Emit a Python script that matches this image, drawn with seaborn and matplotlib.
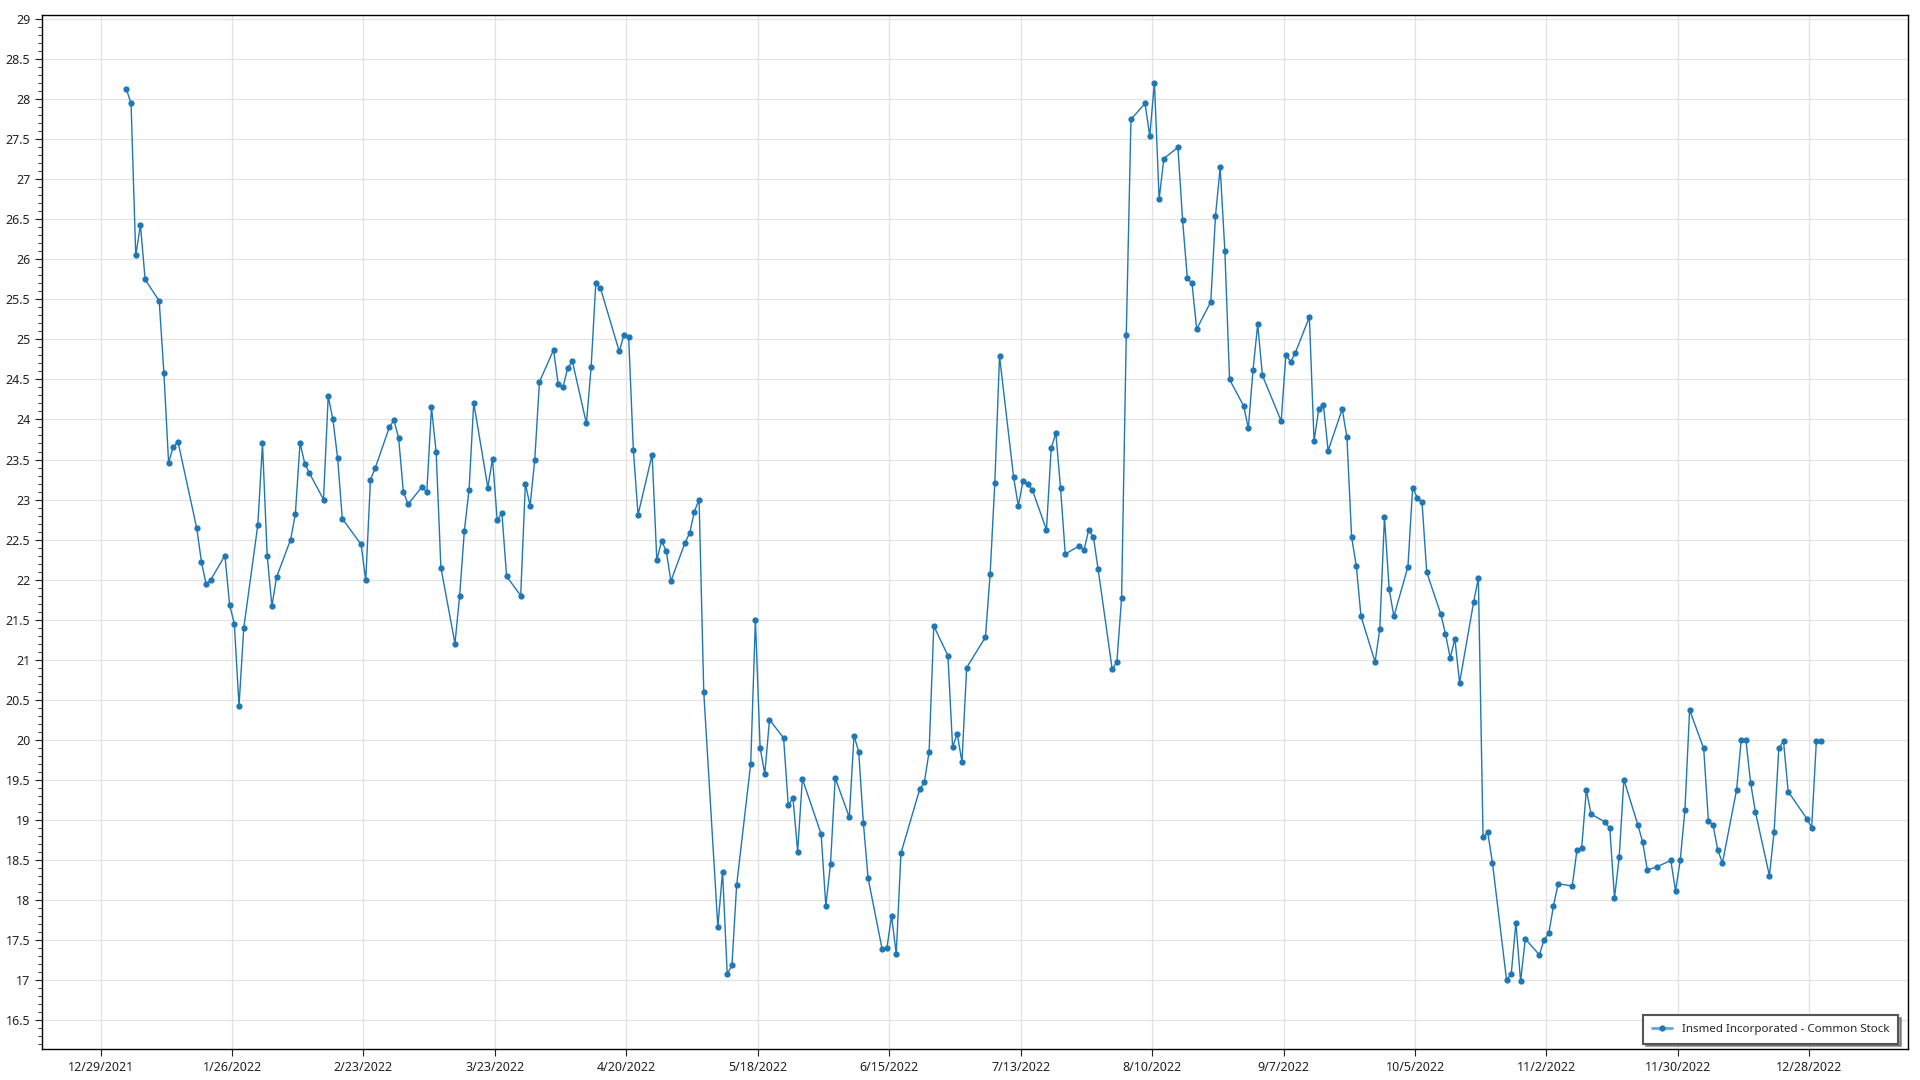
import numpy as np
import pandas as pd
import matplotlib
matplotlib.use('Agg')
import matplotlib.pyplot as plt
import matplotlib.dates as mdates
from matplotlib.ticker import MultipleLocator, FuncFormatter
import seaborn as sns

# ------------------------------------------------------------------
# closing prices, one list per month (2022)
# ------------------------------------------------------------------
jan = [28.13, 27.95, 26.05, 26.43, 25.75, 25.48, 24.58, 23.46, 23.66, 23.72,
       22.64, 22.22, 21.94, 22.00, 22.30, 21.68, 21.45, 20.42, 21.39, 22.68]
feb = [23.70, 22.30, 21.67, 22.03, 22.50, 22.82, 23.71, 23.45, 23.33, 23.00,
       24.29, 24.00, 23.52, 22.76, 22.44, 21.99, 23.25, 23.39, 23.90]
mar = [23.99, 23.77, 23.10, 22.94, 23.16, 23.09, 24.15, 23.59, 22.15, 21.20,
       21.80, 22.61, 23.12, 24.21, 23.15, 23.51, 22.74, 22.83, 22.04, 21.80,
       23.20, 22.92, 23.50]
apr = [24.47, 24.87, 24.44, 24.40, 24.64, 24.73, 23.95, 24.65, 25.70, 25.64,
       24.85, 25.06, 25.03, 23.62, 22.81, 23.56, 22.24, 22.48, 22.36, 21.98]
may = [22.46, 22.58, 22.85, 23.00, 20.59, 17.66, 18.35, 17.07, 17.18, 18.18,
       19.70, 21.50, 19.90, 19.57, 20.25, 20.02, 19.18, 19.27, 18.60, 19.51,
       18.82]
jun = [17.92, 18.45, 19.52, 19.03, 20.05, 19.85, 18.96, 18.27, 17.38, 17.39,
       17.80, 17.32, 18.58, 19.38, 19.47, 19.85, 21.42, 21.05, 19.91, 20.07,
       19.72]
jul = [20.90, 21.28, 22.07, 23.21, 24.79, 23.28, 22.92, 23.23, 23.19, 23.12,
       22.62, 23.64, 23.83, 23.14, 22.32, 22.42, 22.37, 22.62, 22.53, 22.13]
aug = [20.88, 20.97, 21.77, 25.06, 27.75, 27.95, 27.54, 28.21, 26.75, 27.26,
       27.40, 26.49, 25.77, 25.70, 25.13, 25.47, 26.54, 27.15, 26.11, 24.50,
       24.17, 23.89, 24.62]
sep = [25.19, 24.55, 23.98, 24.81, 24.72, 24.83, 25.28, 23.73, 24.13, 24.18,
       23.61, 24.13, 23.78, 22.53, 22.17, 21.54, 20.97, 21.38, 22.78, 21.88,
       21.54]
oct_ = [22.16, 23.15, 23.02, 22.97, 22.09, 21.57, 21.32, 21.02, 21.26, 20.71,
        21.72, 22.02, 18.78, 18.84, 18.46, 17.00, 17.07, 17.71, 16.98, 17.51,
        17.31]
nov = [17.50, 17.58, 17.92, 18.20, 18.17, 18.62, 18.64, 19.37, 19.07, 18.97,
       18.89, 18.02, 18.53, 19.50, 18.93, 18.72, 18.37, 18.41, 18.49, 18.11,
       18.49]
dec = [19.12, 20.37, 19.89, 18.98, 18.93, 18.62, 18.46, 19.37, 20.00, 19.99,
       19.46, 19.10, 18.30, 18.85, 19.89, 19.98, 19.35, 19.01, 18.90, 19.98,
       19.98]

# market holidays 2022 (trading calendar)
holidays = ['2022-01-17', '2022-02-21', '2022-04-15', '2022-05-30', '2022-06-20',
            '2022-07-04', '2022-09-05', '2022-11-24', '2022-12-26']
series_name = 'Insmed Incorporated - Common Stock'

# timestamps sit a bit after midnight in the source chart
dates = pd.bdate_range('2022-01-03', '2022-12-30', freq='C', holidays=holidays) + pd.Timedelta(hours=12)
close = jan + feb + mar + apr + may + jun + jul + aug + sep + oct_ + nov + dec
df = pd.DataFrame({'date': dates, 'close': close})

# ------------------------------------------------------------------
# plot
# ------------------------------------------------------------------
sns.set_style('white')
plt.rcParams['font.family'] = ['Noto Sans', 'DejaVu Sans']

fig = plt.figure(figsize=(19.2, 10.8), dpi=100)
ax = fig.add_axes([0.022, 0.0284, 0.9717, 0.9574])

sns.lineplot(data=df, x='date', y='close', ax=ax, color='#1f77b4',
             linewidth=1.0, marker='o', markersize=4.5, markeredgewidth=0,
             label=series_name)

# axes ranges
ax.set_xlim(pd.Timestamp('2021-12-16 14:00'), pd.Timestamp('2023-01-18'))
ax.set_ylim(16.13, 29.05)

# x ticks every 4 weeks
xticks = pd.date_range('2021-12-29', periods=14, freq='28D')
ax.set_xticks(xticks)
ax.xaxis.set_major_formatter(FuncFormatter(
    lambda v, pos: '{d.month}/{d.day}/{d.year}'.format(d=mdates.num2date(v))))

ax.yaxis.set_major_locator(MultipleLocator(0.5))
ax.yaxis.set_minor_locator(MultipleLocator(0.1))
ax.yaxis.set_major_formatter(FuncFormatter(lambda v, pos: '{:g}'.format(round(v, 2))))

ax.tick_params(axis='both', which='major', direction='out', length=5, width=0.8,
               labelsize=9, colors='#222222', bottom=True, left=True)
ax.tick_params(axis='y', which='minor', direction='out', length=3, width=0.6,
               left=True, colors='#222222')

ax.grid(True, which='major', color='#e3e3e3', linewidth=0.9)
ax.set_axisbelow(True)
for s in ax.spines.values():
    s.set_color('black')
    s.set_linewidth(1.0)

ax.set_xlabel('')
ax.set_ylabel('')

leg = ax.legend(loc='lower right', fontsize=8.3, frameon=True, fancybox=False,
                shadow=True, borderpad=0.75, handlelength=1.8, borderaxespad=0,
                bbox_to_anchor=(0.9946, 0.0055))
leg.get_frame().set_edgecolor('#555555')
leg.get_frame().set_linewidth(1.5)
for h in leg.get_lines():
    h.set_color('#6aa6d6')
    h.set_markerfacecolor('#1f77b4')
    h.set_linewidth(2.0)

plt.savefig('out.png', dpi=100)
